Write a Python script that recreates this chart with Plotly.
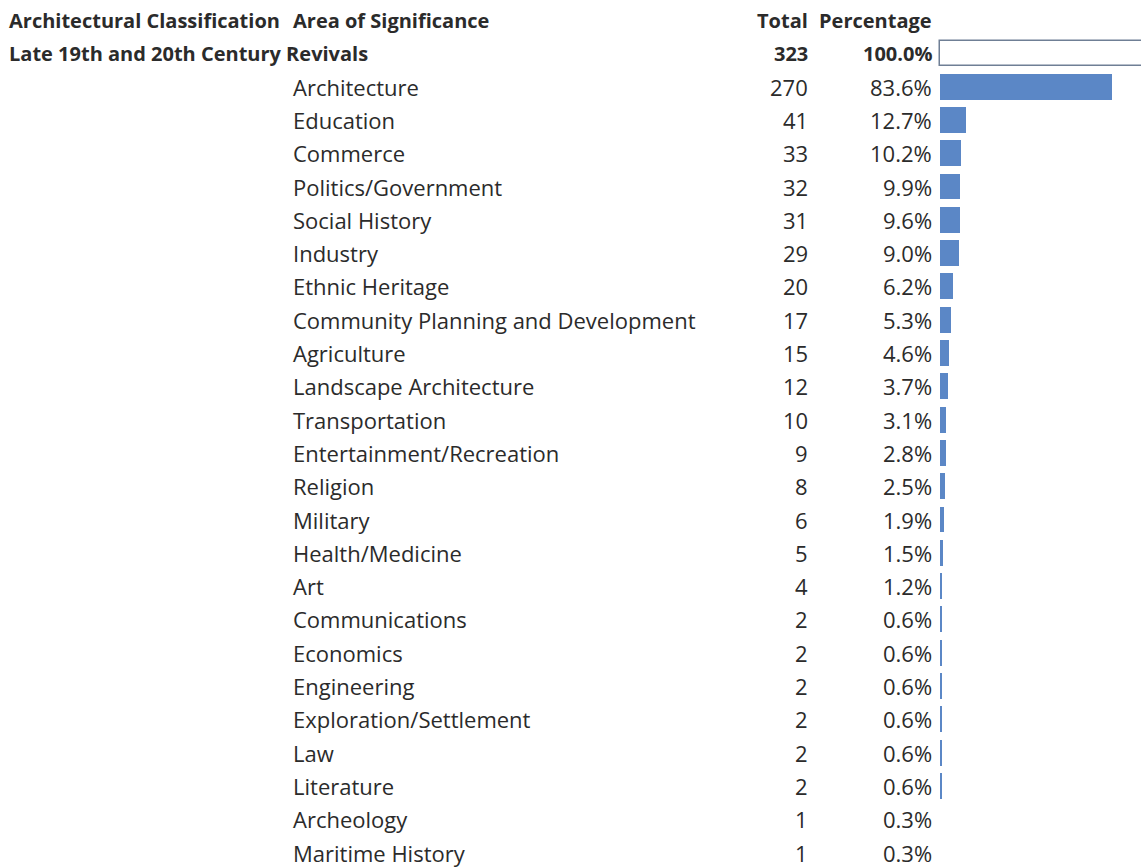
import plotly.graph_objects as go

# ---- data ----
headers = ["Architectural Classification", "Area of Significance", "Total", "Percentage"]
group_name = "Late 19th and 20th Century Revivals"
group_total = 323
group_pct = 100.0

categories = [
    "Architecture", "Education", "Commerce", "Politics/Government", "Social History",
    "Industry", "Ethnic Heritage", "Community Planning and Development", "Agriculture",
    "Landscape Architecture", "Transportation", "Entertainment/Recreation", "Religion",
    "Military", "Health/Medicine", "Art", "Communications", "Economics", "Engineering",
    "Exploration/Settlement", "Law", "Literature", "Archeology", "Maritime History",
]
totals = [270, 41, 33, 32, 31, 29, 20, 17, 15, 12, 10, 9, 8, 6, 5, 4, 2, 2, 2, 2, 2, 2, 1, 1]
percentages = [83.6, 12.7, 10.2, 9.9, 9.6, 9.0, 6.2, 5.3, 4.6, 3.7, 3.1, 2.8, 2.5,
               1.9, 1.5, 1.2, 0.6, 0.6, 0.6, 0.6, 0.6, 0.6, 0.3, 0.3]

# ---- layout constants ----
W, H = 1141, 867
FONT = "Open Sans"
FS = 22
FSB = 20
TXT = "#2b2b2b"
BAR = "#5b87c6"
OUTLINE = "#6f7f95"
MIN_BAR = 0.5  # data bars are not shown for the smallest values

row_header = 0
row_group = 1
cat_rows = [i + 2 for i in range(len(categories))]

def px(x):
    return x / W

fig = go.Figure()

# group bar (outlined)
fig.add_trace(go.Bar(
    x=[group_pct], y=[row_group], orientation="h", width=0.76,
    marker=dict(color="white", line=dict(color=OUTLINE, width=1.5)),
    hoverinfo="skip", showlegend=False,
))
# category bars
bx = [p for p in percentages if p >= MIN_BAR]
by = [r for r, p in zip(cat_rows, percentages) if p >= MIN_BAR]
fig.add_trace(go.Bar(
    x=bx, y=by, orientation="h", width=0.78,
    marker=dict(color=BAR, line=dict(width=0)),
    hoverinfo="skip", showlegend=False,
))

ann = []
def add(text, xp, row, anchor, bold=False):
    ann.append(dict(
        text=f"<b>{text}</b>" if bold else text,
        x=px(xp), xref="paper", y=row, yref="y",
        xanchor=anchor, yanchor="middle", showarrow=False,
        borderpad=0,
        font=dict(family=FONT, size=FSB if bold else FS, color=TXT),
    ))

# headers
add(headers[0], 8, row_header, "left", True)
add(headers[1], 292, row_header, "left", True)
add(headers[2], 809, row_header, "right", True)
add(headers[3], 933, row_header, "right", True)
# group row
add(group_name, 8, row_group, "left", True)
add(str(group_total), 809, row_group, "right", True)
add(f"{group_pct:.1f}%", 933, row_group, "right", True)
# categories
for r, c, t, p in zip(cat_rows, categories, totals, percentages):
    add(c, 292, r, "left")
    add(str(t), 809, r, "right")
    add(f"{p:.1f}%", 933, r, "right")

# axis ranges so that bar origin sits at px 940 with ~2.06 px per percent
scale = 2.06
x0 = 940
xr = [(0 - x0) / scale, (W - x0) / scale]
row_h = 33.3
top_c = 20
yr = [(H - top_c) / row_h, -top_c / row_h]

fig.update_layout(
    width=W, height=H,
    margin=dict(l=0, r=0, t=0, b=0),
    paper_bgcolor="white", plot_bgcolor="white",
    xaxis=dict(range=xr, visible=False, showgrid=False, zeroline=False),
    yaxis=dict(range=yr, visible=False, showgrid=False, zeroline=False),
    annotations=ann,
    bargap=0,
)

fig.write_html("out.html", config={"displayModeBar": False},
               post_script="document.body.style.margin='0px';")
